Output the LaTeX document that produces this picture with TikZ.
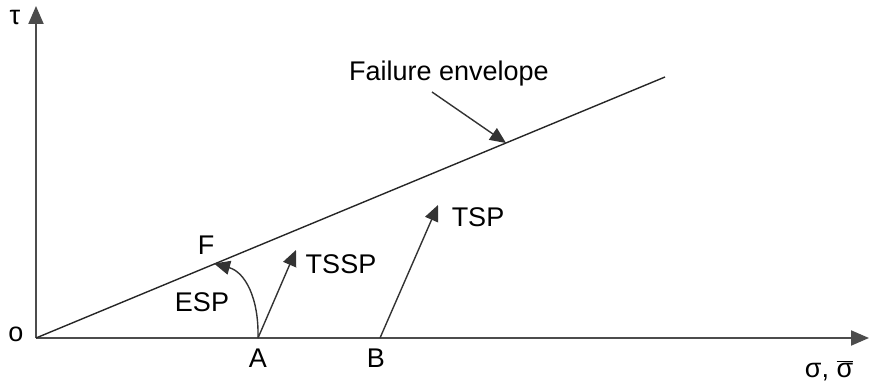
\documentclass[tikz,border=0pt]{standalone}
\usepackage{fontspec}
\setmainfont{Liberation Sans}
\usetikzlibrary{arrows.meta}
\begin{document}
\begin{tikzpicture}[x=1pt,y=-1pt,
  lbl/.style={inner sep=0pt,font=\fontsize{27}{32}\selectfont},
  axis/.style={draw=black!70,line width=2pt,-{Triangle[length=18pt,width=15pt]}},
  env/.style={draw=black!85,line width=1.4pt},
  path/.style={draw=black!80,line width=1.4pt,-{Triangle[length=16pt,width=14pt]}}]
\useasboundingbox (0,0) rectangle (870,382);
\coordinate (O) at (36,338);
\coordinate (Ytop) at (36,6);
\coordinate (Xend) at (869,338);
\coordinate (E) at (665,77);
\coordinate (A) at (258,338);
\coordinate (B) at (380,338);
\coordinate (Fp) at (214,263.5);
\coordinate (T1) at (296,250);
\coordinate (T2) at (438,205);
\coordinate (Ep) at (506,143);
\draw[axis] (O) -- (Ytop);
\draw[axis] (O) -- (Xend);
\draw[env] (O) -- (E);
\node[lbl] (fe) at (449,74) {Failure envelope};
\coordinate (feT) at (432,92);
\draw[path] (feT) -- (Ep);
\draw[path] (A) -- (T1);
\draw[path] (B) -- (T2);
\draw[path] (A) .. controls (259,298) and (245,272) .. (Fp);
\node[lbl] (tau) at (15,18) {τ};
\node[lbl] (o) at (16,334) {o};
\node[lbl] (la) at (258,358) {A};
\node[lbl] (lb) at (376,358) {B};
\node[lbl] (lf) at (206,245) {F};
\node[lbl] (lesp) at (202,302) {ESP};
\node[lbl] (ltssp) at (341,264) {TSSP};
\node[lbl] (ltsp) at (478,217) {TSP};
\node[lbl,anchor=base] (ls) at (829,377) {σ, $\overline{\mbox{σ}}$};
\end{tikzpicture}
\end{document}
